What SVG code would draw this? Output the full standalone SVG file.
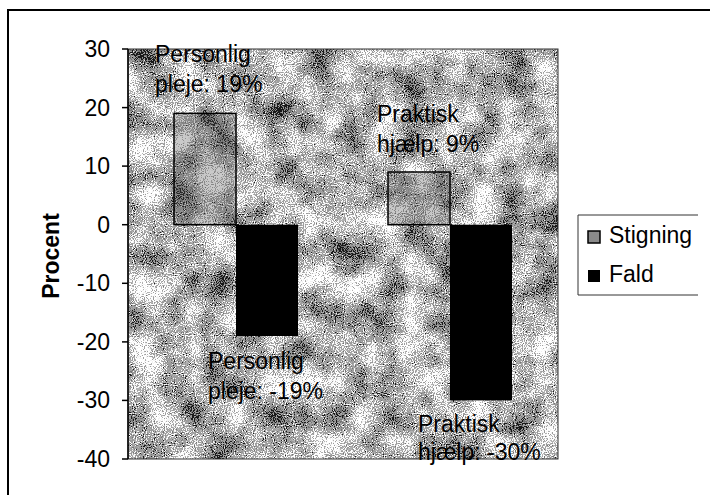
<svg xmlns="http://www.w3.org/2000/svg" width="710" height="495" viewBox="0 0 710 495">
  <style>
    text { font-family: "Liberation Sans", Arial, sans-serif; fill: #000; }
    .tick { font-size: 23px; text-anchor: end; }
    .lbl { font-size: 23px; }
    .leg { font-size: 23px; }
    .ttl { font-size: 23px; font-weight: bold; text-anchor: middle; }
    .tk { stroke: #000; stroke-width: 1.5; }
    .up { fill: #505050; fill-opacity: 0.3; stroke: #000; stroke-width: 1.5; }
    .down { fill: #000; }
  </style>
  <defs>
    <filter id="speckle" x="0" y="0" width="1" height="1" color-interpolation-filters="sRGB">
      <feTurbulence type="fractalNoise" baseFrequency="0.9" numOctaves="1" seed="2" result="f"/>
      <feColorMatrix in="f" type="matrix" values="1 0 0 0 0 1 0 0 0 0 1 0 0 0 0 0 0 0 0 1" result="f1"/>
      <feTurbulence type="fractalNoise" baseFrequency="0.03" numOctaves="3" seed="5" result="c"/>
      <feColorMatrix in="c" type="matrix" values="1 0 0 0 0 1 0 0 0 0 1 0 0 0 0 0 0 0 0 1" result="c1"/>
      <feComposite in="f1" in2="c1" operator="arithmetic" k2="0.7" k3="0.45" k4="-0.075" result="m"/>
      <feComponentTransfer in="m" result="s">
        <feFuncR type="linear" slope="2.6" intercept="-0.8"/>
        <feFuncG type="linear" slope="2.6" intercept="-0.8"/>
        <feFuncB type="linear" slope="2.6" intercept="-0.8"/>
      </feComponentTransfer>
      <feComponentTransfer in="s">
        <feFuncR type="discrete" tableValues="0.1 0.45 0.6 0.62 0.7 0.95 1 1"/>
        <feFuncG type="discrete" tableValues="0.1 0.45 0.6 0.62 0.7 0.95 1 1"/>
        <feFuncB type="discrete" tableValues="0.1 0.45 0.6 0.62 0.7 0.95 1 1"/>
      </feComponentTransfer>
    </filter>
  </defs>

  <rect x="0" y="0" width="710" height="495" fill="#fff"/>
  <rect id="frame" x="8" y="10" width="720" height="500" fill="none" stroke="#000" stroke-width="2"/>

  <g id="plot-area">
    <rect x="128" y="49" width="430" height="410" fill="#fff" filter="url(#speckle)"/>
    <rect x="128" y="49" width="430" height="410" fill="none" stroke="#333" stroke-width="1"/>
  </g>

  <g id="value-axis">
    <line class="tk" x1="128" y1="49" x2="128" y2="459"/>
    <line class="tk" x1="122" y1="49" x2="128" y2="49"/>
    <line class="tk" x1="122" y1="107.6" x2="128" y2="107.6"/>
    <line class="tk" x1="122" y1="166.1" x2="128" y2="166.1"/>
    <line class="tk" x1="122" y1="224.7" x2="128" y2="224.7"/>
    <line class="tk" x1="122" y1="283.3" x2="128" y2="283.3"/>
    <line class="tk" x1="122" y1="341.9" x2="128" y2="341.9"/>
    <line class="tk" x1="122" y1="400.4" x2="128" y2="400.4"/>
    <line class="tk" x1="122" y1="459" x2="128" y2="459"/>
    <text class="tick" x="110" y="57">30</text>
    <text class="tick" x="110" y="116">20</text>
    <text class="tick" x="110" y="174">10</text>
    <text class="tick" x="110" y="233">0</text>
    <text class="tick" x="110" y="291">-10</text>
    <text class="tick" x="110" y="350">-20</text>
    <text class="tick" x="110" y="408">-30</text>
    <text class="tick" x="110" y="467">-40</text>
    <text class="ttl" transform="translate(59 256) rotate(-90)">Procent</text>
  </g>

  <g id="bars">
    <rect id="bar-personlig-stigning" class="up" x="174" y="113.4" width="62" height="111.3"/>
    <rect id="bar-personlig-fald" class="down" x="236" y="224.7" width="62" height="111.3"/>
    <rect id="bar-praktisk-stigning" class="up" x="388" y="172" width="62" height="52.7"/>
    <rect id="bar-praktisk-fald" class="down" x="450" y="224.7" width="62" height="175.7"/>
  </g>

  <g id="data-labels">
    <text class="lbl" x="155" y="62">Personlig</text>
    <text class="lbl" x="155" y="92">pleje: 19%</text>
    <text class="lbl" x="208" y="369">Personlig</text>
    <text class="lbl" x="208" y="399">pleje: -19%</text>
    <text class="lbl" x="377" y="122">Praktisk</text>
    <text class="lbl" x="377" y="152">hjælp: 9%</text>
    <text class="lbl" x="418" y="432">Praktisk</text>
    <text class="lbl" x="418" y="460">hjælp: -30%</text>
  </g>

  <g id="legend">
    <path d="M698 215 H578 V295 H698" fill="none" stroke="#333" stroke-width="1"/>
    <rect x="588" y="231" width="12" height="12" fill="#8a8a8a" stroke="#000" stroke-width="1.5"/>
    <text class="leg" x="609" y="243">Stigning</text>
    <rect x="588" y="270" width="12" height="12" fill="#000"/>
    <text class="leg" x="609" y="282">Fald</text>
  </g>
</svg>
